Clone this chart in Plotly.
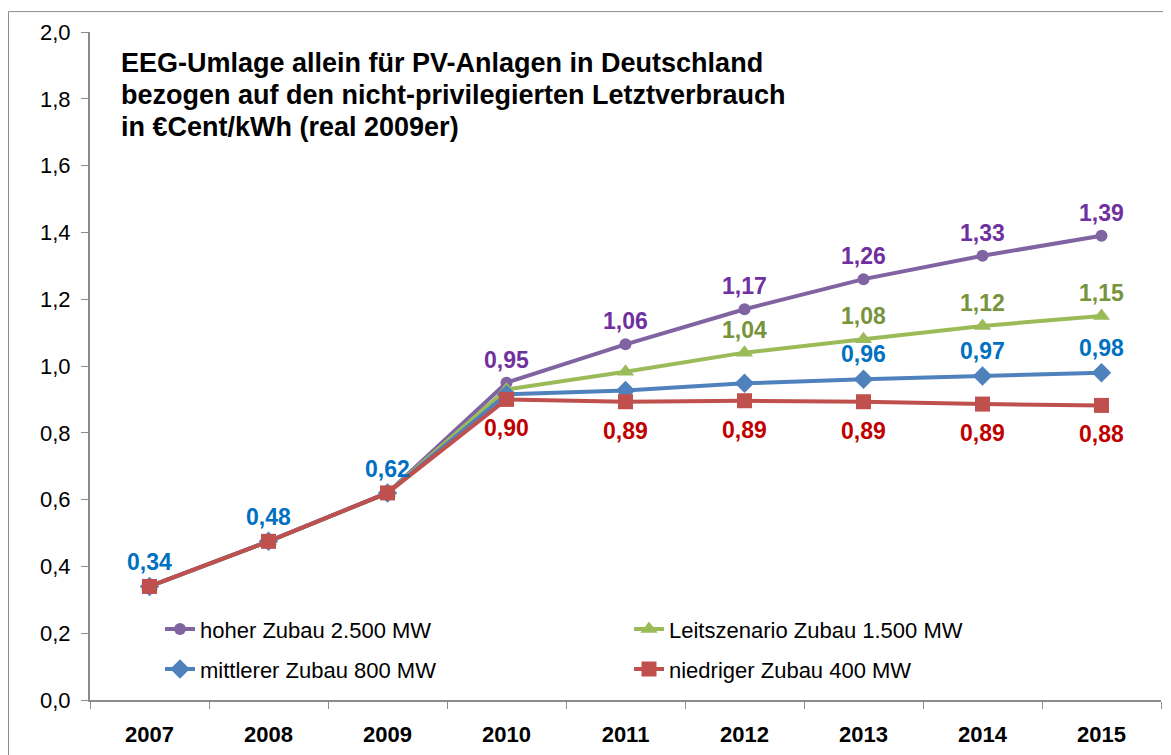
import plotly.graph_objects as go

years = ["2007", "2008", "2009", "2010", "2011", "2012", "2013", "2014", "2015"]
hoher = [0.34, 0.475, 0.62, 0.95, 1.065, 1.17, 1.26, 1.33, 1.39]
leit = [0.34, 0.475, 0.62, 0.93, 0.983, 1.04, 1.08, 1.12, 1.15]
mittel = [0.34, 0.475, 0.62, 0.915, 0.927, 0.948, 0.96, 0.97, 0.98]
niedrig = [0.34, 0.475, 0.62, 0.90, 0.893, 0.896, 0.893, 0.886, 0.882]

names = ["hoher Zubau 2.500 MW", "Leitszenario Zubau 1.500 MW",
         "mittlerer Zubau 800 MW", "niedriger Zubau 400 MW"]
line_colors = ["#8064A2", "#9BBB59", "#4F81BD", "#C0504D"]
label_colors = ["#7030A0", "#77933C", "#0070C0", "#C00000"]
symbols = ["circle", "triangle-up", "diamond", "square"]
msizes = [12, 15, 15, 15]

# label values shown on chart
shared_labels = [0.34, 0.48, 0.62]
hoher_labels = [0.95, 1.06, 1.17, 1.26, 1.33, 1.39]
leit_labels = [1.04, 1.08, 1.12, 1.15]
mittel_labels = [0.96, 0.97, 0.98]
niedrig_labels = [0.90, 0.89, 0.89, 0.89, 0.89, 0.88]

title_lines = ["EEG-Umlage allein für PV-Anlagen in Deutschland",
               "bezogen auf den nicht-privilegierten Letztverbrauch",
               "in €Cent/kWh (real 2009er)"]

FONT = "Liberation Sans, Arial, sans-serif"

# page has an 8px body margin; plot area in page px: x 90..1161, y 29..700
def px(xp):
    return (xp - 90) / 1071

def py(yp):
    return (700 - yp) / 671

fig = go.Figure()
series = [hoher, leit, mittel, niedrig]
legends = ["legend", "legend", "legend2", "legend2"]
for i, s in enumerate(series):
    fig.add_trace(go.Scatter(
        x=years, y=s, name=names[i], mode="lines+markers",
        line=dict(color=line_colors[i], width=4),
        marker=dict(symbol=symbols[i], size=msizes[i], color=line_colors[i]),
        legend=legends[i],
    ))

def fmt(v):
    return f"{v:.2f}".replace(".", ",")

def add_labels(start, ys, texts, color, shift):
    for k, (y, t) in enumerate(zip(ys, texts)):
        fig.add_annotation(x=start + k, y=y, xref="x", yref="y", text=fmt(t),
                           showarrow=False, yshift=shift,
                           font=dict(family=FONT, size=23, color=color, weight="bold"))

add_labels(0, niedrig[:3], shared_labels, label_colors[2], 24)
add_labels(3, hoher[3:], hoher_labels, label_colors[0], 23)
add_labels(5, leit[5:], leit_labels, label_colors[1], 23)
add_labels(6, mittel[6:], mittel_labels, label_colors[2], 25)
add_labels(3, niedrig[3:], niedrig_labels, label_colors[3], -29)

for line, yc in zip(title_lines, [60, 92, 124]):
    fig.add_annotation(xref="paper", yref="paper", x=px(119), y=py(yc),
                       xanchor="left", yanchor="middle", align="left", showarrow=False,
                       text=line,
                       font=dict(family=FONT, size=27, color="#000000", weight="bold"))

# outer frame
fig.add_shape(type="rect", xref="paper", yref="paper",
              x0=px(8.5), x1=1.2, y0=-0.3, y1=py(8.5),
              line=dict(color="#8C8C8C", width=1), fillcolor="rgba(0,0,0,0)", layer="below")

legend_common = dict(orientation="h", entrywidth=424, entrywidthmode="pixels",
                     font=dict(family=FONT, size=22, color="#000000"),
                     bgcolor="rgba(0,0,0,0)", itemwidth=30,
                     xanchor="left", yanchor="middle")
fig.update_layout(
    legend=dict(x=px(160), y=py(629), **legend_common),
    legend2=dict(x=px(160), y=py(669), **legend_common),
)

fig.update_layout(
    width=1171, height=755,
    margin=dict(l=82, r=18, t=21, b=63),
    paper_bgcolor="white", plot_bgcolor="white",
    separators=", ",
    showlegend=True,
    font=dict(family=FONT, color="#000000"),
    xaxis=dict(type="category", range=[-0.5, 8.5], showgrid=False,
               showline=True, linecolor="#8C8C8C", linewidth=2,
               ticks="outside", tickson="boundaries", ticklen=7, tickcolor="#8C8C8C",
               tickfont=dict(family=FONT, size=22, color="#000000", weight="bold"),
               ticklabelstandoff=14),
    yaxis=dict(range=[0, 2], dtick=0.2, tickformat=".1f", showgrid=False, zeroline=False,
               showline=True, linecolor="#8C8C8C", linewidth=2,
               ticks="outside", ticklen=7, tickcolor="#8C8C8C",
               tickfont=dict(family=FONT, size=22, color="#000000"),
               ticklabelstandoff=6),
)

fig.write_html("out.html")
